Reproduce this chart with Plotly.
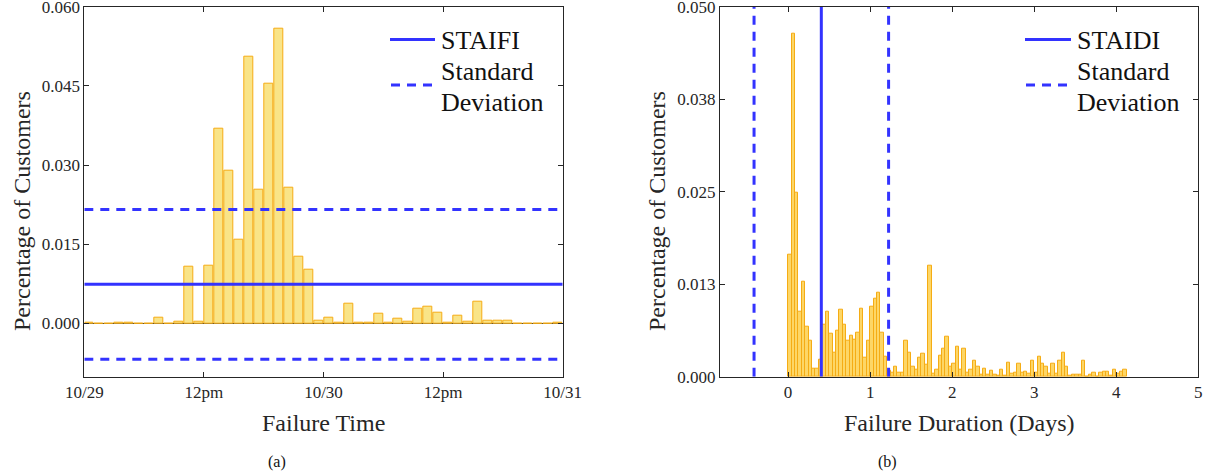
import numpy as np
import plotly.graph_objects as go

# ---------------- data ----------------
# (a) hourly failure-time histogram, 10/29 00:00 .. 10/31 00:00
time_hour_bins = list(range(48))
time_pct = [0.0001, 0, 0, 0.0001, 0.0001, 0, 0, 0.0010, 0, 0.0003,
            0.0108, 0.0003, 0.0110, 0.0369, 0.0289, 0.0159, 0.0505, 0.0253, 0.0455, 0.0559,
            0.0258, 0.0126, 0.0102, 0.0006, 0.0010, 0.0001, 0.0037, 0.0002, 0.0002, 0.0019,
            0.0002, 0.0008, 0.0004, 0.0027, 0.0032, 0.0021, 0.0001, 0.0014, 0.0004, 0.0042,
            0.0006, 0.0006, 0.0005, 0, 0, 0, 0, 0.0002]
time_ticks = [0, 12, 24, 36, 48]
time_tick_labels = ["10/29", "12pm", "10/30", "12pm", "10/31"]
time_y_ticks = [0, 0.015, 0.03, 0.045, 0.06]
staifi_mean = 0.0074
staifi_std = 0.0142

# (b) hourly failure-duration histogram (days)
dur_hour_bins = list(range(99))
dur_pct = [0.0165, 0.0464, 0.0248, 0.0088, 0.0128, 0.0068, 0.0048, 0.0011, 0.0011, 0.0023,
           0.0070, 0.0088, 0.0058, 0.0033, 0.0062, 0.0091, 0.0070, 0.0048, 0.0056, 0.0050,
           0.0059, 0.0092, 0.0026, 0.0049, 0.0095, 0.0106, 0.0114, 0.0059, 0.0027, 0.0008,
           0.0005, 0.0013, 0.0005, 0.0006, 0.0049, 0.0033, 0.0014, 0.0010, 0.0026, 0.0031,
           0.0016, 0.0150, 0.0004, 0.0010, 0.0029, 0.0038, 0.0054, 0.0014, 0.0018, 0.0041,
           0.0010, 0.0038, 0.0005, 0.0010, 0.0022, 0.0013, 0.0003, 0.0011, 0.0003, 0.0008,
           0.0003, 0.0001, 0.0010, 0.0001, 0.0019, 0.0004, 0.0006, 0.0017, 0.0006, 0.0007,
           0.0004, 0.0022, 0.0005, 0.0027, 0.0017, 0.0013, 0.0004, 0.0018, 0.0004, 0.0022,
           0.0032, 0.0013, 0.0002, 0.0003, 0.0003, 0.0003, 0.0021, 0, 0.0003, 0.0005,
           0, 0.0006, 0.0007, 0.0007, 0.0001, 0.0010, 0.0004, 0.0007, 0.0009]
dur_ticks = [0, 1, 2, 3, 4, 5]
dur_y_ticks = [0, 0.0125, 0.025, 0.0375, 0.05]
dur_y_labels = ["0.000", "0.013", "0.025", "0.038", "0.050"]
staidi_mean = 0.405
staidi_std = 0.82

# ---------------- style ----------------
W, H = 1209, 473
FONT = "Liberation Serif, Times New Roman, DejaVu Serif, serif"
BLUE = "rgb(51,51,255)"
FILL = "rgb(249,228,136)"
FILL_B = "rgb(253,214,102)"
EDGE = "rgb(245,172,20)"
AX = "#262626"
DASH = "9px,7px"

fig = go.Figure()

# (a)
fig.add_trace(go.Bar(
    x=[h + 0.5 for h in time_hour_bins], y=time_pct, width=0.9,
    marker=dict(color=FILL, line=dict(color=EDGE, width=1)),
    showlegend=False, xaxis="x", yaxis="y"))
fig.add_trace(go.Scatter(
    x=[0, 48], y=[staifi_mean, staifi_mean], mode="lines",
    line=dict(color=BLUE, width=3), name="STAIFI", showlegend=False,
    xaxis="x", yaxis="y"))
fig.add_trace(go.Scatter(
    x=[0, 48, None, 0, 48],
    y=[staifi_mean + staifi_std, staifi_mean + staifi_std, None,
       staifi_mean - staifi_std, staifi_mean - staifi_std],
    mode="lines", line=dict(color=BLUE, width=3, dash=DASH),
    name="Standard Deviation", showlegend=False, xaxis="x", yaxis="y"))

# (b)
fig.add_trace(go.Bar(
    x=[(k + 0.5) / 24 for k in dur_hour_bins], y=dur_pct, width=1 / 24,
    marker=dict(color=FILL_B, line=dict(color=EDGE, width=1)),
    showlegend=False, xaxis="x2", yaxis="y2"))
fig.add_trace(go.Scatter(
    x=[staidi_mean, staidi_mean], y=[0, 0.05], mode="lines",
    line=dict(color=BLUE, width=3), name="STAIDI", showlegend=False,
    xaxis="x2", yaxis="y2"))
fig.add_trace(go.Scatter(
    x=[staidi_mean - staidi_std, staidi_mean - staidi_std, None,
       staidi_mean + staidi_std, staidi_mean + staidi_std],
    y=[0, 0.05, None, 0, 0.05],
    mode="lines", line=dict(color=BLUE, width=3, dash=DASH),
    name="Standard Deviation", showlegend=False, xaxis="x2", yaxis="y2"))

axis_common = dict(showline=True, mirror="ticks", linecolor=AX, linewidth=1,
                   ticks="inside", ticklen=5, tickcolor=AX, showgrid=False,
                   automargin=False, ticklabeloverflow="allow",
                   tickfont=dict(family=FONT, size=17, color=AX))

ytop = 1 - 6.7 / H
ybot = 1 - 376.7 / H
EPS = 1e-7

fig.update_layout(
    width=W, height=H, margin=dict(l=0, r=0, t=0, b=0, pad=0, autoexpand=False),
    paper_bgcolor="white", plot_bgcolor="white",
    font=dict(family=FONT, color=AX),
    bargap=0, showlegend=False,
    xaxis=dict(domain=[84.3 / W, 562.7 / W], range=[0 - 1e-6, 48 + 1e-6], tickvals=time_ticks,
               ticktext=time_tick_labels, zeroline=False, anchor="y", **axis_common),
    yaxis=dict(domain=[ybot, ytop], range=[-0.0101, 0.060 + EPS], tickvals=time_y_ticks,
               tickformat=".3f", zeroline=True, zerolinecolor="#333333", zerolinewidth=1.3,
               anchor="x", **axis_common),
    xaxis2=dict(domain=[720 / W, 1198.3 / W], range=[-0.83, 5.0 + 1e-6], tickvals=dur_ticks,
                zeroline=False, anchor="y2", **axis_common),
    yaxis2=dict(domain=[ybot, ytop], range=[-EPS, 0.05 + EPS], tickvals=dur_y_ticks,
                ticktext=dur_y_labels, zeroline=False, anchor="x2", **axis_common),
)

# ---- legends drawn as shapes + text (pixel placement) ----
def px(x):
    return x / W

def py(y):
    return 1 - y / H

leg_font = dict(family=FONT, size=26, color="#111")
for (x0, x1, xt, label) in [(390, 435, 439, "STAIFI"), (1025, 1071, 1075, "STAIDI")]:
    fig.add_shape(type="line", xref="paper", yref="paper", x0=px(x0), x1=px(x1),
                  y0=py(39.5), y1=py(39.5), line=dict(color=BLUE, width=3))
    fig.add_shape(type="line", xref="paper", yref="paper", x0=px(x0 + 1), x1=px(x1),
                  y0=py(85), y1=py(85), line=dict(color=BLUE, width=3, dash=DASH))
    for text, yc in [(label, 41), ("Standard", 71.5), ("Deviation", 102.5)]:
        fig.add_annotation(xref="paper", yref="paper", showarrow=False,
                           xanchor="left", yanchor="middle", font=leg_font,
                           text=text, x=px(xt), y=py(yc))

ann_font = dict(family=FONT, size=24, color=AX)
cap_font = dict(family=FONT, size=16, color="#111")
annotations = [
    dict(text="Failure Time", x=323.5, y=423, font=ann_font),
    dict(text="Failure Duration (Days)", x=959, y=423, font=ann_font),
    dict(text="(a)", x=277, y=462, font=cap_font),
    dict(text="(b)", x=887, y=462, font=cap_font),
]
for a in annotations:
    fig.add_annotation(xref="paper", yref="paper", showarrow=False,
                       xanchor="center", yanchor="middle",
                       font=a["font"], text=a["text"], x=px(a["x"]), y=py(a["y"]))
for xpx in (22, 657):
    fig.add_annotation(xref="paper", yref="paper", showarrow=False, textangle=-90,
                       xanchor="center", yanchor="middle", font=ann_font,
                       text="Percentage of Customers", x=px(xpx), y=py(211))

fig.write_html(
    "out.html",
    config={"displayModeBar": False},
    post_script="document.body.style.margin='0';document.body.style.overflow='hidden';",
)
